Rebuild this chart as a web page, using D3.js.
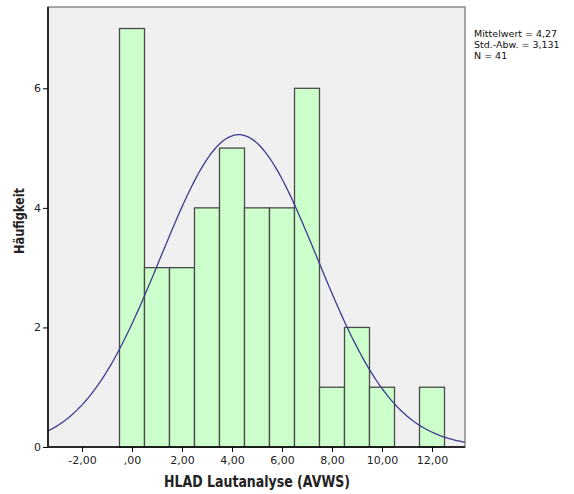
<!DOCTYPE html>
<html>
<head>
<meta charset="utf-8">
<script src="https://cdn.jsdelivr.net/npm/d3@7"></script>
<style>
  body { margin: 0; background: #fff; }
  svg text { font-family: "DejaVu Sans", sans-serif; }
</style>
</head>
<body>
<div id="chart"></div>
<script>
// bin centres (width 1) and their counts
const binCenters = [0, 1, 2, 3, 4, 5, 6, 7, 8, 9, 10, 11, 12];
const counts     = [7, 3, 3, 4, 5, 4, 4, 6, 1, 2, 1, 0, 1];
const xTicks = [-2, 0, 2, 4, 6, 8, 10, 12];
const yTicks = [0, 2, 4, 6];
const statsLines = ["Mittelwert = 4,27", "Std.-Abw. = 3,131", "N = 41"];
const mean = 4.27, sd = 3.131, n = 41, binWidth = 1;

const width = 574, height = 494;
const margin = {top: 7, right: 109, bottom: 47, left: 48};
const innerW = width - margin.left - margin.right;
const innerH = height - margin.top - margin.bottom;

const svg = d3.select("#chart")
              .append("svg")
              .attr("width", width)
              .attr("height", height);

const g = svg.append("g")
             .attr("transform", "translate(" + margin.left + "," + margin.top + ")");

const x = d3.scaleLinear().domain([-3.36, 13.32]).range([0, innerW]);
const y = d3.scaleLinear().domain([0, 7.36]).range([innerH, 0]);

// plot background + frame
g.append("rect")
 .attr("width", innerW)
 .attr("height", innerH)
 .attr("fill", "#f0f0f0")
 .attr("stroke", "#8a8a8a")
 .attr("stroke-width", 1.5);

// bars
g.selectAll("rect.bar")
 .data(binCenters.map((c, i) => ({c: c, v: counts[i]})).filter(d => d.v > 0))
 .enter()
 .append("rect")
 .attr("class", "bar")
 .attr("x", d => x(d.c - binWidth / 2))
 .attr("width", d => x(d.c + binWidth / 2) - x(d.c - binWidth / 2))
 .attr("y", d => y(d.v))
 .attr("height", d => innerH - y(d.v))
 .attr("fill", "#ccffcc")
 .attr("stroke", "#4a4a4a")
 .attr("stroke-width", 1.3);

// normal curve
const pdf = v => n * binWidth / (sd * Math.sqrt(2 * Math.PI)) * Math.exp(-0.5 * Math.pow((v - mean) / sd, 2));
const curvePts = d3.range(0, 201).map(i => {
  const v = x.domain()[0] + (x.domain()[1] - x.domain()[0]) * i / 200;
  return [v, pdf(v)];
});
g.append("path")
 .datum(curvePts)
 .attr("fill", "none")
 .attr("stroke", "#3d3d8f")
 .attr("stroke-width", 1.3)
 .attr("d", d3.line().x(d => x(d[0])).y(d => y(d[1])));

// axes
const fmt = d => (d === 0 ? ",00" : d3.format(".2f")(d).replace(".", ",").replace("\u2212", "-"));
const xAxis = g.append("g")
               .attr("transform", "translate(0," + innerH + ")")
               .call(d3.axisBottom(x).tickValues(xTicks).tickSize(5).tickPadding(4).tickFormat(fmt));
const yAxis = g.append("g")
               .call(d3.axisLeft(y).tickValues(yTicks).tickSize(5).tickPadding(2).tickFormat(d3.format("d")));

[xAxis, yAxis].forEach(a => {
  a.select(".domain").attr("stroke", "#000").attr("stroke-width", 1.5);
  a.selectAll(".tick line").attr("stroke", "#000");
  a.selectAll(".tick text").attr("font-size", 11).attr("fill", "#222");
});
yAxis.select(".domain").attr("d", "M0," + innerH + "V0");
xAxis.select(".domain").attr("d", "M0,0H" + innerW);

// axis titles
svg.append("text")
   .attr("x", 257)
   .attr("y", 487)
   .attr("text-anchor", "middle")
   .attr("font-size", 15)
   .attr("font-weight", "bold")
   .attr("fill", "#222")
   .attr("textLength", 186)
   .attr("lengthAdjust", "spacingAndGlyphs")
   .text("HLAD Lautanalyse (AVWS)");

svg.append("text")
   .attr("transform", "translate(24,221) rotate(-90)")
   .attr("text-anchor", "middle")
   .attr("font-size", 14)
   .attr("font-weight", "bold")
   .attr("fill", "#222")
   .attr("textLength", 66)
   .attr("lengthAdjust", "spacingAndGlyphs")
   .text("Häufigkeit");

// stats annotation
svg.append("g")
   .selectAll("text")
   .data(statsLines)
   .enter()
   .append("text")
   .attr("x", 474)
   .attr("y", (d, i) => 37 + i * 11)
   .attr("font-size", 9.5)
   .attr("fill", "#111")
   .text(d => d);
</script>
</body>
</html>
